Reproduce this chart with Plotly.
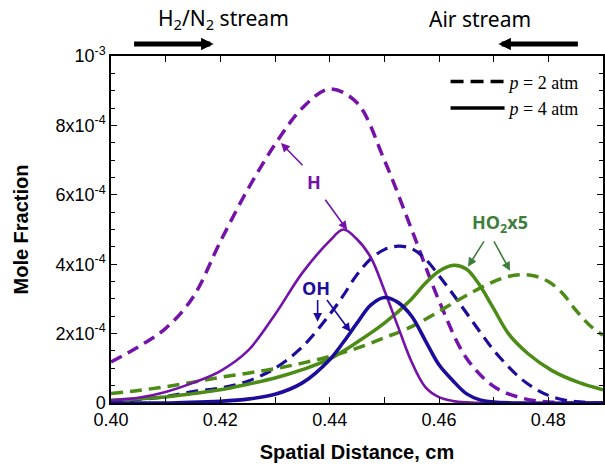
import plotly.graph_objects as go

# Spatial coordinate (cm) and mole fractions (units of 1e-4) for each species / pressure
h_p2_x = [0.400, 0.405, 0.410, 0.415, 0.420, 0.425, 0.430, 0.435, 0.440, 0.445, 0.450,
          0.455, 0.460, 0.465, 0.470, 0.475, 0.480, 0.490]
h_p2_y = [1.18, 1.62, 2.15, 3.05, 4.65, 6.15, 7.45, 8.50, 9.05, 8.65, 7.00,
          5.00, 2.95, 1.30, 0.48, 0.15, 0.03, 0.00]

h_p4_x = [0.400, 0.405, 0.410, 0.415, 0.420, 0.425, 0.430, 0.435, 0.440, 0.4425, 0.445,
          0.4475, 0.450, 0.4525, 0.455, 0.4575, 0.460, 0.4625, 0.465, 0.470, 0.490]
h_p4_y = [0.08, 0.15, 0.32, 0.58, 0.92, 1.50, 2.55, 3.75, 4.67, 5.00, 4.72,
          4.20, 3.25, 2.20, 1.18, 0.46, 0.17, 0.06, 0.02, 0.00, 0.00]

oh_p2_x = [0.400, 0.405, 0.410, 0.415, 0.420, 0.425, 0.430, 0.435, 0.440, 0.4425, 0.445,
           0.4475, 0.450, 0.4525, 0.455, 0.4575, 0.460, 0.4625, 0.465, 0.4675, 0.470,
           0.4725, 0.475, 0.4775, 0.480, 0.4825, 0.485, 0.490]
oh_p2_y = [0.03, 0.10, 0.18, 0.33, 0.43, 0.63, 1.00, 1.62, 2.55, 3.10, 3.70,
           4.15, 4.42, 4.52, 4.45, 4.15, 3.67, 3.15, 2.60, 2.05, 1.52,
           1.08, 0.70, 0.42, 0.22, 0.10, 0.04, 0.00]

oh_p4_x = [0.400, 0.410, 0.4162, 0.420, 0.4253, 0.430, 0.435, 0.440, 0.4425, 0.445,
           0.4475, 0.450, 0.4525, 0.455, 0.4575, 0.460, 0.4625, 0.465, 0.4675, 0.470,
           0.475, 0.490]
oh_p4_y = [0.00, 0.00, 0.03, 0.05, 0.12, 0.25, 0.58, 1.25, 1.75, 2.30,
           2.82, 3.04, 2.90, 2.50, 1.80, 1.10, 0.65, 0.27, 0.09, 0.03,
           0.00, 0.00]

ho2_p2_x = [0.400, 0.405, 0.410, 0.415, 0.420, 0.425, 0.430, 0.435, 0.440, 0.445, 0.450,
            0.455, 0.460, 0.465, 0.470, 0.4725, 0.475, 0.4775, 0.480, 0.4825, 0.485,
            0.4875, 0.490]
ho2_p2_y = [0.27, 0.36, 0.47, 0.60, 0.74, 0.86, 0.99, 1.15, 1.34, 1.58, 1.88,
            2.20, 2.64, 3.10, 3.50, 3.64, 3.70, 3.66, 3.50, 3.18, 2.68,
            2.25, 1.95]

ho2_p4_x = [0.400, 0.405, 0.410, 0.415, 0.420, 0.425, 0.430, 0.435, 0.440, 0.445, 0.450,
            0.455, 0.4575, 0.460, 0.4627, 0.465, 0.4672, 0.470, 0.4727, 0.4763, 0.4806,
            0.4854, 0.490]
ho2_p4_y = [0.08, 0.12, 0.17, 0.27, 0.38, 0.54, 0.72, 0.96, 1.27, 1.75, 2.30,
            3.00, 3.45, 3.80, 3.97, 3.86, 3.45, 2.72, 2.00, 1.42, 0.94,
            0.60, 0.38]

x_ticks = [0.40, 0.42, 0.44, 0.46, 0.48]
x_labels = ["0.40", "0.42", "0.44", "0.46", "0.48"]
y_ticks = [0, 2, 4, 6, 8, 10]
y_labels = ["0", "2x10<sup>-4</sup>", "4x10<sup>-4</sup>", "6x10<sup>-4</sup>",
            "8x10<sup>-4</sup>", "10<sup>-3</sup>"]

PURPLE = "#7412AA"
NAVY = "#1C0C9C"
GREEN = "#4C8C16"
GREEN_TXT = "#3E7E3A"
DASH = "12px,7px"

fig = go.Figure()

series = [
    (h_p2_x, h_p2_y, PURPLE, 3.5, DASH),
    (oh_p2_x, oh_p2_y, NAVY, 3.2, DASH),
    (ho2_p2_x, ho2_p2_y, GREEN, 3.5, DASH),
    (ho2_p4_x, ho2_p4_y, GREEN, 3.5, "solid"),
    (h_p4_x, h_p4_y, PURPLE, 2.6, "solid"),
    (oh_p4_x, oh_p4_y, NAVY, 3.6, "solid"),
]
for xs, ys, col, w, dash in series:
    fig.add_trace(go.Scatter(x=xs, y=ys, mode="lines", showlegend=False,
                             line=dict(color=col, width=w, dash=dash,
                                       shape="spline", smoothing=1.0)))

# pressure key (black samples)
fig.add_trace(go.Scatter(x=[None], y=[None], mode="lines", name="<i>p</i> = 2 atm",
                         line=dict(color="black", width=3.5, dash="13px,7px")))
fig.add_trace(go.Scatter(x=[None], y=[None], mode="lines", name="<i>p</i> = 4 atm",
                         line=dict(color="black", width=3.5)))

annotations = []

def label(x, y, text, color):
    annotations.append(dict(x=x, y=y, xref="x", yref="y", text=text, showarrow=False,
                            xanchor="center", yanchor="middle",
                            font=dict(family="Open Sans", size=18, color=color)))

def pointer(x0, y0, x1, y1, color):
    annotations.append(dict(x=x1, y=y1, ax=x0, ay=y0, xref="x", yref="y",
                            axref="x", ayref="y", text="", showarrow=True,
                            arrowhead=2, arrowsize=1.1, arrowwidth=1.6,
                            arrowcolor=color, standoff=0, startstandoff=0))

label(0.4372, 6.38, "<b>H</b>", PURPLE)
pointer(0.4353, 6.81, 0.4311, 7.49, PURPLE)
pointer(0.4390, 5.90, 0.4432, 4.99, PURPLE)

label(0.4375, 3.30, "<b>OH</b>", NAVY)
pointer(0.4378, 3.01, 0.4378, 2.34, NAVY)
pointer(0.4393, 3.01, 0.4438, 2.05, NAVY)

label(0.4712, 5.18, "<b>HO<sub>2</sub>x5</b>", GREEN_TXT)
pointer(0.4684, 4.70, 0.4653, 3.93, GREEN_TXT)
pointer(0.4699, 4.70, 0.4730, 3.81, GREEN_TXT)

# stream direction labels above the plot
annotations.append(dict(x=0.2287, y=1.107, xref="paper", yref="paper",
                        xanchor="center", yanchor="middle",
                        text="H<sub>2</sub>/N<sub>2</sub> stream", showarrow=False,
                        font=dict(family="Noto Sans", size=21, color="black")))
annotations.append(dict(x=0.751, y=1.107, xref="paper", yref="paper",
                        xanchor="center", yanchor="middle",
                        text="Air stream", showarrow=False,
                        font=dict(family="Noto Sans", size=21, color="black")))
annotations.append(dict(x=0.2085, y=1.0346, xref="paper", yref="paper", text="",
                        showarrow=True, ax=-81, ay=0, axref="pixel", ayref="pixel",
                        arrowhead=2, arrowsize=0.5, arrowwidth=5, arrowcolor="black",
                        standoff=0, startstandoff=0))
annotations.append(dict(x=0.7874, y=1.0346, xref="paper", yref="paper", text="",
                        showarrow=True, ax=81, ay=0, axref="pixel", ayref="pixel",
                        arrowhead=2, arrowsize=0.5, arrowwidth=5, arrowcolor="black",
                        standoff=0, startstandoff=0))

axis_font = dict(family="Arial, Liberation Sans", size=18, color="black")
title_font = dict(family="Arial, Liberation Sans", size=20, color="black")

fig.update_layout(
    width=605, height=466,
    margin=dict(l=111, r=0, t=56, b=63, pad=0),
    plot_bgcolor="white", paper_bgcolor="white",
    annotations=annotations,
    legend=dict(x=0.68, y=0.979, xanchor="left", yanchor="top",
                bgcolor="rgba(0,0,0,0)", borderwidth=0, itemwidth=54,
                font=dict(family="Liberation Serif", size=18, color="black")),
    xaxis=dict(range=[0.40, 0.49], tickvals=x_ticks, ticktext=x_labels,
               ticks="inside", ticklen=6, tickwidth=1.3, tickcolor="black",
               minor=dict(dtick=0.01, tick0=0.40, ticks="inside", ticklen=6,
                          tickwidth=1.3, tickcolor="black"),
               showline=True, linecolor="black", linewidth=1.5, mirror="ticks",
               showgrid=False, zeroline=False, tickfont=axis_font,
               title=dict(text="<b>Spatial Distance, cm</b>", font=title_font, standoff=16)),
    yaxis=dict(range=[0, 10], tickvals=y_ticks, ticktext=y_labels,
               ticks="inside", ticklen=6, tickwidth=1.3, tickcolor="black",
               minor=dict(dtick=0.5, tick0=0, ticks="inside", ticklen=4,
                          tickwidth=1.1, tickcolor="black"),
               showline=True, linecolor="black", linewidth=1.5, mirror="ticks",
               showgrid=False, zeroline=False, tickfont=axis_font,
               title=dict(text="<b>Mole Fraction</b>", font=title_font, standoff=21)),
)

fig.write_html("out.html")
